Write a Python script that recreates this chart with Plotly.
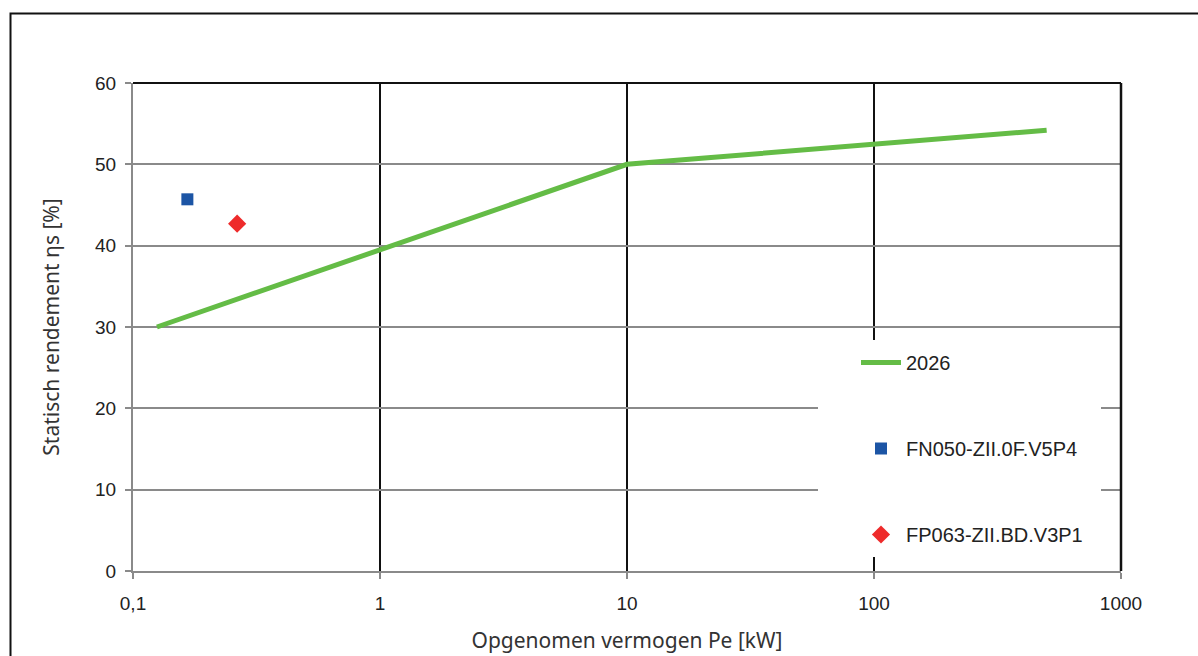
import plotly.graph_objects as go

# Minimum efficiency requirement (2026) versus absorbed power
power_2026 = [0.125, 10, 500]
eff_2026 = [30.0, 50.0, 54.2]

# Measured fans
fn050_power = [0.166]
fn050_eff = [45.7]
fp063_power = [0.264]
fp063_eff = [42.7]

x_tickvals = [0.1, 1, 10, 100, 1000]
x_ticktext = ["0,1", "1", "10", "100", "1000"]
y_tickvals = [0, 10, 20, 30, 40, 50, 60]

GREEN = "#64bc46"
BLUE = "#1c55a5"
RED = "#ee2b2b"
AXIS_GREY = "#8a8a8a"

fig = go.Figure()

fig.add_trace(go.Scatter(
    x=power_2026, y=eff_2026, mode="lines", name="2026",
    line=dict(color=GREEN, width=5), legendgroup="a",
))
fig.add_trace(go.Scatter(
    x=fn050_power, y=fn050_eff, mode="markers", name="FN050-ZII.0F.V5P4",
    marker=dict(color=BLUE, symbol="square", size=12), legendgroup="b",
))
fig.add_trace(go.Scatter(
    x=fp063_power, y=fp063_eff, mode="markers", name="FP063-ZII.BD.V3P1",
    marker=dict(color=RED, symbol="diamond", size=14), legendgroup="c",
))

L, R, T, B = 133, 1198 - 1121, 83, 656 - 571
W, H = 1121 - L, 571 - T


def px(p):
    return (p - L) / W


def py(q):
    return (571 - q) / H


shapes = [
    # outer frame
    dict(type="rect", xref="paper", yref="paper",
         x0=px(10.5), x1=1.2, y0=py(13.5), y1=-0.3,
         line=dict(color="#111111", width=2), fillcolor="rgba(0,0,0,0)", layer="below"),
    # legend background, hides the grid behind the legend
    dict(type="rect", xref="paper", yref="paper",
         x0=px(818), x1=px(1101), y0=py(557), y1=py(340),
         line=dict(width=0), fillcolor="white", layer="above"),
    # top and right border of the plot area
    dict(type="line", xref="paper", yref="paper", x0=0, x1=1, y0=1, y1=1,
         line=dict(color="#111111", width=2)),
    dict(type="line", xref="paper", yref="paper", x0=1, x1=1, y0=0, y1=1,
         line=dict(color="#111111", width=2.5)),
]

fig.update_layout(
    width=1198, height=656,
    margin=dict(l=L, r=R, t=T, b=B),
    paper_bgcolor="white", plot_bgcolor="white",
    font=dict(family="Liberation Sans, Arial, sans-serif", size=19, color="#222222"),
    shapes=shapes,
    showlegend=True,
    legend=dict(
        x=px(856), y=py(343), xanchor="left", yanchor="top",
        bgcolor="rgba(0,0,0,0)", borderwidth=0,
        font=dict(family="Liberation Sans, Arial, sans-serif", size=20, color="#222222"),
        tracegroupgap=57, itemwidth=40,
    ),
    xaxis=dict(
        type="log", range=[-1, 3], automargin=False,
        tickvals=x_tickvals, ticktext=x_ticktext,
        showgrid=True, gridcolor="#111111", gridwidth=1.5,
        showline=True, linecolor=AXIS_GREY, linewidth=2,
        ticks="outside", ticklen=6, tickcolor=AXIS_GREY, tickwidth=1.5,
        ticklabelstandoff=8,
        zeroline=False,
        title=dict(text="Opgenomen vermogen Pe [kW]", standoff=21,
                   font=dict(family="Noto Sans, Open Sans, sans-serif", size=21, color="#333333")),
    ),
    yaxis=dict(
        range=[0, 60], tickvals=y_tickvals, automargin=False,
        showgrid=True, gridcolor=AXIS_GREY, gridwidth=1.5,
        showline=True, linecolor=AXIS_GREY, linewidth=2,
        ticks="outside", ticklen=6, tickcolor=AXIS_GREY, tickwidth=1.5,
        ticklabelstandoff=5,
        zeroline=False,
        title=dict(text="Statisch rendement ηs [%]", standoff=30,
                   font=dict(family="Noto Sans, Open Sans, sans-serif", size=21, color="#333333")),
    ),
)

fig.write_html("out.html")
